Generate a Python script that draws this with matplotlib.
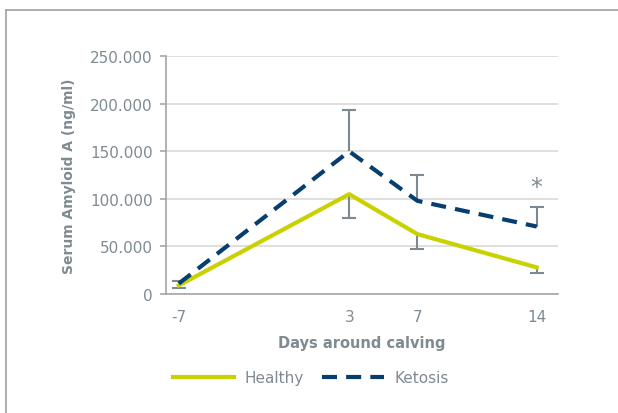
import numpy as np
import matplotlib
matplotlib.use("Agg")
import matplotlib.pyplot as plt
from matplotlib.ticker import FuncFormatter
from matplotlib.lines import Line2D

# data (ng/ml)
days = [-7, 3, 7, 14]
healthy = [9000, 105000, 63000, 28000]
ketosis = [11000, 150000, 98000, 71000]
healthy_err_low = [3000, 25000, 16000, 6000]
ketosis_err_up = [3000, 44000, 27000, 20000]
yticks = [0, 50000, 100000, 150000, 200000, 250000]

text_grey = "#7f8b92"
err_grey = "#7b8a92"
yellow = "#c9d100"
navy = "#073e70"

plt.rcParams["font.family"] = ["DejaVu Sans"]

fig = plt.figure(figsize=(6.18, 4.14), dpi=100)
ax = fig.add_axes([0.2686, 0.2874, 0.6343, 0.5742])

# one-sided error bars: stem plus a cap at the far end only
h_low = np.array(healthy) - np.array(healthy_err_low)
k_up = np.array(ketosis) + np.array(ketosis_err_up)
ax.vlines(days, h_low, healthy, color=err_grey, lw=1.5, zorder=2)
ax.vlines(days, ketosis, k_up, color=err_grey, lw=1.5, zorder=2)
ax.plot(days, h_low, ls="none", marker="_", ms=10.5, mew=1.5, color=err_grey, zorder=2)
ax.plot(days, k_up, ls="none", marker="_", ms=10.5, mew=1.5, color=err_grey, zorder=2)

ax.plot(days, healthy, color=yellow, lw=3, label="Healthy", zorder=3)
ax.plot(days, ketosis, color=navy, lw=3, linestyle=(0, (3.6, 2.2)),
        label="Ketosis", zorder=4)

# significance marker
ax.text(days[-1], k_up[-1] + 22000, "*", color=text_grey,
        fontsize=17, ha="center", va="center")

ax.set_xlim(-7.75, 15.25)
ax.set_ylim(0, 250000)
ax.set_xticks(days)
ax.set_xticklabels([str(d) for d in days])
ax.set_yticks(yticks)
ax.yaxis.set_major_formatter(FuncFormatter(lambda v, p: "0" if v == 0 else f"{int(v):,}".replace(",", ".")))

ax.grid(axis="y", color="#d9d9d9", lw=1.2)
ax.set_axisbelow(True)
for s in ["top", "right"]:
    ax.spines[s].set_visible(False)
ax.spines["left"].set_color("#a6a6a6")
ax.spines["bottom"].set_color("#a6a6a6")
ax.spines["left"].set_linewidth(1.2)
ax.spines["bottom"].set_linewidth(1.2)

ax.tick_params(axis="y", length=4.5, width=1.2, color="#a6a6a6", pad=5,
               labelsize=11, labelcolor=text_grey)
ax.tick_params(axis="x", length=0, pad=11, labelsize=11, labelcolor=text_grey)

ax.set_xlabel("Days around calving", fontsize=10.5, fontweight="bold",
              color=text_grey, labelpad=8)
ax.set_ylabel("Serum Amyloid A (ng/ml)", fontsize=10, fontweight="bold",
              color=text_grey, labelpad=10)

fig.legend(loc="center", bbox_to_anchor=(0.503, 0.085), ncol=2, frameon=False,
           fontsize=11, handlelength=4.0, handletextpad=0.7, columnspacing=1.2,
           labelcolor=text_grey)

# outer frame (top and left edges visible)
fig.add_artist(Line2D([6 / 618, 1], [1 - 11 / 414] * 2, color="#a0a0a0", lw=1.2))
fig.add_artist(Line2D([6 / 618] * 2, [0, 1 - 11 / 414], color="#a0a0a0", lw=1.2))

fig.savefig("out.png", dpi=100)
